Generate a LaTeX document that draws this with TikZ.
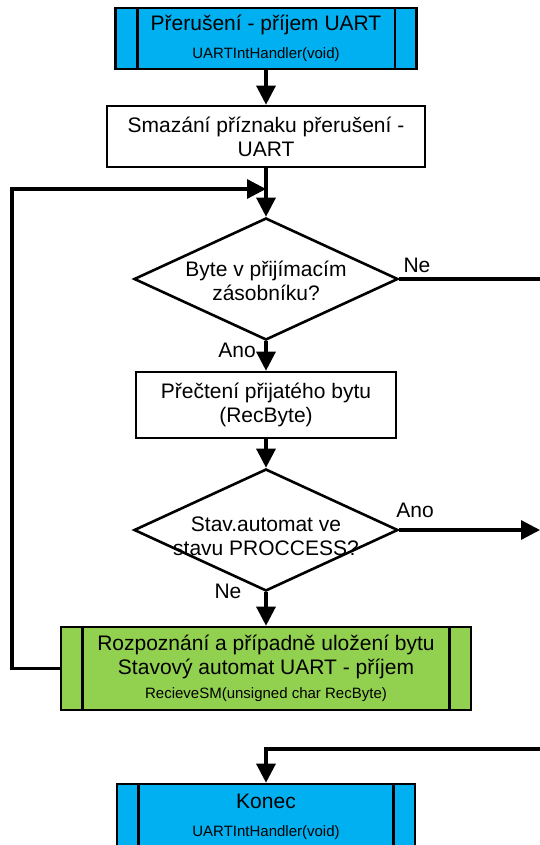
\documentclass[tikz,border=0pt]{standalone}
\usepackage{fontspec}
\setmainfont{Liberation Sans}
\usetikzlibrary{shapes, arrows.meta}

\definecolor{procblue}{HTML}{00B0F0}
\definecolor{procgreen}{HTML}{92D050}
\newcommand{\fname}[1]{{\fontsize{15}{18}\selectfont #1}}

\begin{document}
\begin{tikzpicture}[x=1pt, y=-1pt, line width=2.6pt,
    every node/.style={font=\fontsize{21}{24}\selectfont},
    box/.style={rectangle, draw, align=center, inner sep=0pt},
    subproc/.style={box, fill=procblue},
    decision/.style={diamond, draw, inner sep=0pt, minimum width=264pt, minimum height=122pt},
    flow/.style={line width=3.2pt, -{Triangle[length=19pt, width=19pt]}},
    lbl/.style={inner sep=0pt, align=center}]

    \useasboundingbox (0,0) rectangle (540,845);

    % blocks
    \node[subproc, minimum width=301pt, minimum height=61pt] (start) at (266,38.5) {Přerušení - příjem UART\\[4pt]\fname{UARTIntHandler(void)}};
    \node[box, minimum width=318pt, minimum height=61pt] (clear) at (266,136.5) {Smazání příznaku přerušení -\\UART};
    \node[decision] (haveByte) at (266,279) {};
    \node[lbl] (haveByteTxt) at (266,281) {Byte v přijímacím\\zásobníku?};
    \node[box, minimum width=260pt, minimum height=66pt] (readByte) at (266,405) {Přečtení přijatého bytu\\(RecByte)};
    \node[decision] (inProcess) at (266,530) {};
    \node[lbl] (inProcessTxt) at (266,536) {Stav.automat ve\\stavu PROCCESS?};
    \node[box, fill=procgreen, minimum width=410pt, minimum height=83pt] (recvSM) at (266,668.5) {Rozpoznání a případně uložení bytu\\Stavový automat UART - příjem\\\fname{RecieveSM(unsigned char RecByte)}};
    \node[subproc, minimum width=298pt, minimum height=66pt] (done) at (266,817) {Konec\\[4pt]\fname{UARTIntHandler(void)}};

    % side bars of the subprocess boxes
    \foreach \n in {start, recvSM, done}
        \draw ([xshift=23pt]\n.north west) -- ([xshift=23pt]\n.south west)
              ([xshift=-23pt]\n.north east) -- ([xshift=-23pt]\n.south east);

    % answers
    \node[lbl] (ne1) at (417,265) {Ne};
    \node[lbl] (ano1) at (237,350) {Ano};
    \node[lbl] (ano2) at (415,510) {Ano};
    \node[lbl] (ne2) at (228,591) {Ne};

    \coordinate (merge) at (266,189);
    \coordinate (back) at (12,189);
    \coordinate (noByte) at (541,279);
    \coordinate (toEnd) at (540,530);
    \coordinate (fromRight) at (541,749);

    \draw[flow] (start) -- (clear);
    \draw[flow] (clear) -- (haveByte);
    \draw[flow] (recvSM.west) -| (back) -- (merge);
    \draw[flow, -] (haveByte.east) -- (noByte);
    \draw[flow] (haveByte) -- (readByte);
    \draw[flow] (readByte) -- (inProcess);
    \draw[flow] (inProcess.east) -- (toEnd);
    \draw[flow] (inProcess) -- (recvSM);
    \draw[flow] (fromRight) -| (done.north);
\end{tikzpicture}
\end{document}
